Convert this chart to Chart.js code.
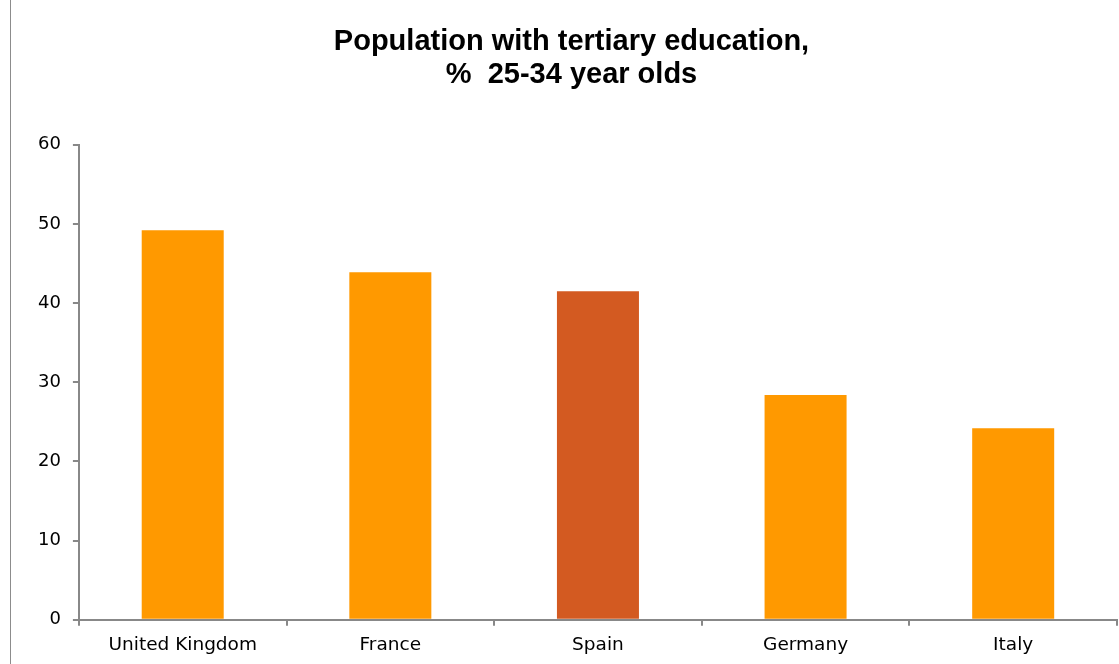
<!DOCTYPE html>
<html>
<head>
<meta charset="utf-8">
<script src="https://cdn.jsdelivr.net/npm/chart.js@4"></script>
<style>
  html, body { margin: 0; padding: 0; background: #fff; }
  #wrap { position: relative; width: 1119px; height: 664px; }
  #edge { position: absolute; left: 10px; top: 0; width: 1px; height: 664px; background: #8c8c8c; }
  canvas { position: absolute; left: 0; top: 0; }
</style>
</head>
<body>
<div id="wrap">
  <div id="edge"></div>
  <canvas id="c" width="1119" height="664"></canvas>
</div>
<script>
const categories = ["United Kingdom", "France", "Spain", "Germany", "Italy"];
const values = [49.2, 43.9, 41.5, 28.4, 24.2];
const barColors = ["#FF9900", "#FF9900", "#D35A21", "#FF9900", "#FF9900"];
const titleLines = ["Population with tertiary education,", "%  25-34 year olds"];
const yMin = 0, yMax = 60, yStep = 10;

new Chart(document.getElementById("c"), {
  type: "bar",
  data: {
    labels: categories,
    datasets: [{
      data: values,
      backgroundColor: barColors,
      borderWidth: 0,
      categoryPercentage: 1.0,
      barPercentage: 0.395
    }]
  },
  options: {
    responsive: false,
    animation: false,
    devicePixelRatio: 1,
    layout: { padding: { left: 26, right: 2, top: 25, bottom: 0 } },
    plugins: {
      legend: { display: false },
      tooltip: { enabled: false },
      title: {
        display: true,
        text: titleLines,
        color: "#000",
        font: { family: "'Liberation Sans', Arial, sans-serif", size: 29, weight: "bold", lineHeight: 1.15 },
        padding: { top: 0, bottom: 53 }
      }
    },
    scales: {
      x: {
        grid: { display: true, drawOnChartArea: false, drawTicks: true, tickLength: 6, color: "#888", lineWidth: 2, offset: true },
        border: { display: true, color: "#888", width: 2 },
        ticks: { color: "#000", font: { family: "'DejaVu Sans', Verdana, sans-serif", size: 18.5 }, padding: 8, maxRotation: 0 }
      },
      y: {
        min: yMin, max: yMax,
        grid: { display: true, drawOnChartArea: false, drawTicks: true, tickLength: 6, color: "#888", lineWidth: 2 },
        border: { display: true, color: "#888", width: 2 },
        ticks: { stepSize: yStep, color: "#000", font: { family: "'DejaVu Sans', Verdana, sans-serif", size: 18 }, padding: 12 }
      }
    }
  }
});
</script>
</body>
</html>
